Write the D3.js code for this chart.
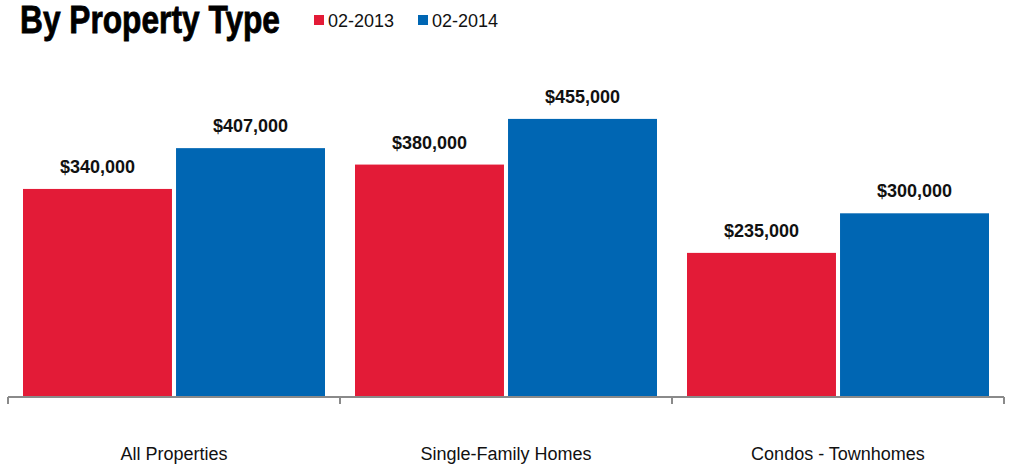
<!DOCTYPE html>
<html><head><meta charset="utf-8">
<script src="https://cdn.jsdelivr.net/npm/d3@7"></script>
<style>body{margin:0;background:#fff}svg{display:block}</style>
</head><body>
<script>
const categories = ["All Properties", "Single-Family Homes", "Condos - Townhomes"];
const seriesNames = ["02-2013", "02-2014"];
const values2013 = [340000, 380000, 235000];
const values2014 = [407000, 455000, 300000];
const colors = ["#E31B37", "#0066B3"];

const W = 1009, H = 467;
const svg = d3.select("body").append("svg").attr("width", W).attr("height", H);

const data = categories.map((c, i) => ({cat: c, vals: [values2013[i], values2014[i]]}));

const x0 = d3.scaleBand().domain(categories).range([8, 1004]).paddingInner(0).paddingOuter(0);
const x1 = d3.scaleBand().domain(seriesNames).range([15, 317]).paddingInner(0.0265);
const y = d3.scaleLinear().domain([0, 500000]).range([396, 396 - 304.5]);

const fmt = v => "$" + d3.format(",")(v);

const g = svg.append("g");
const groups = g.selectAll("g.grp").data(data).join("g").attr("class","grp")
  .attr("transform", d => `translate(${x0(d.cat)},0)`);

groups.selectAll("rect").data(d => d.vals.map((v, j) => ({v, s: seriesNames[j], j})))
  .join("rect")
  .attr("x", d => x1(d.s)).attr("width", x1.bandwidth())
  .attr("y", d => y(d.v)).attr("height", d => y(0) - y(d.v))
  .attr("fill", d => colors[d.j]);

groups.selectAll("text.val").data(d => d.vals.map((v, j) => ({v, s: seriesNames[j], j})))
  .join("text").attr("class","val")
  .attr("x", d => x1(d.s) + x1.bandwidth()/2)
  .attr("y", d => y(d.v) - 16)
  .attr("text-anchor","middle")
  .attr("font-family","'Liberation Sans', Arial, sans-serif")
  .attr("font-weight","bold").attr("font-size","18px").attr("fill","#111")
  .text(d => fmt(d.v));

// axis
const axis = d3.axisBottom(x0).tickSize(0).tickFormat("");
const ax = svg.append("g").attr("transform","translate(0,397)").call(axis);
ax.select(".domain").attr("stroke","#8a8a8a").attr("stroke-width",2).attr("d","M8,0H1004");
ax.selectAll(".tick").remove();
const edges = [x0.range()[0]].concat(categories.map(c => x0(c) + x0.bandwidth()));
ax.selectAll("line.edge").data(edges).join("line").attr("class","edge")
  .attr("x1", d => d).attr("x2", d => d).attr("y1", 0).attr("y2", 7)
  .attr("stroke","#8a8a8a").attr("stroke-width",2);

svg.append("g").selectAll("text").data(categories).join("text")
  .attr("x", d => x0(d) + x0.bandwidth()/2).attr("y", 460)
  .attr("text-anchor","middle")
  .attr("font-family","'Liberation Sans', Arial, sans-serif")
  .attr("font-size","18px").attr("fill","#111")
  .text(d => d);

// title
svg.append("text").attr("x", 20).attr("y", 33)
  .attr("font-family","'Liberation Sans Narrow', 'Liberation Sans', Arial, sans-serif")
  .attr("font-weight","bold").attr("font-size","38px").attr("fill","#000")
  .attr("textLength", 260).attr("lengthAdjust","spacingAndGlyphs")
  .style("stroke","#000").style("stroke-width","0.8px")
  .text("By Property Type");

// legend
const lx = [314, 418];
const leg = svg.append("g").selectAll("g").data(seriesNames).join("g")
  .attr("transform", (d, i) => `translate(${lx[i]},0)`);
leg.append("rect").attr("x",0).attr("y",15).attr("width",10).attr("height",10)
  .attr("fill", (d, i) => colors[i]);
leg.append("text").attr("x",14).attr("y",27)
  .attr("font-family","'Liberation Sans', Arial, sans-serif")
  .attr("font-size","18px").attr("fill","#111")
  .text(d => d);
</script>
</body></html>
